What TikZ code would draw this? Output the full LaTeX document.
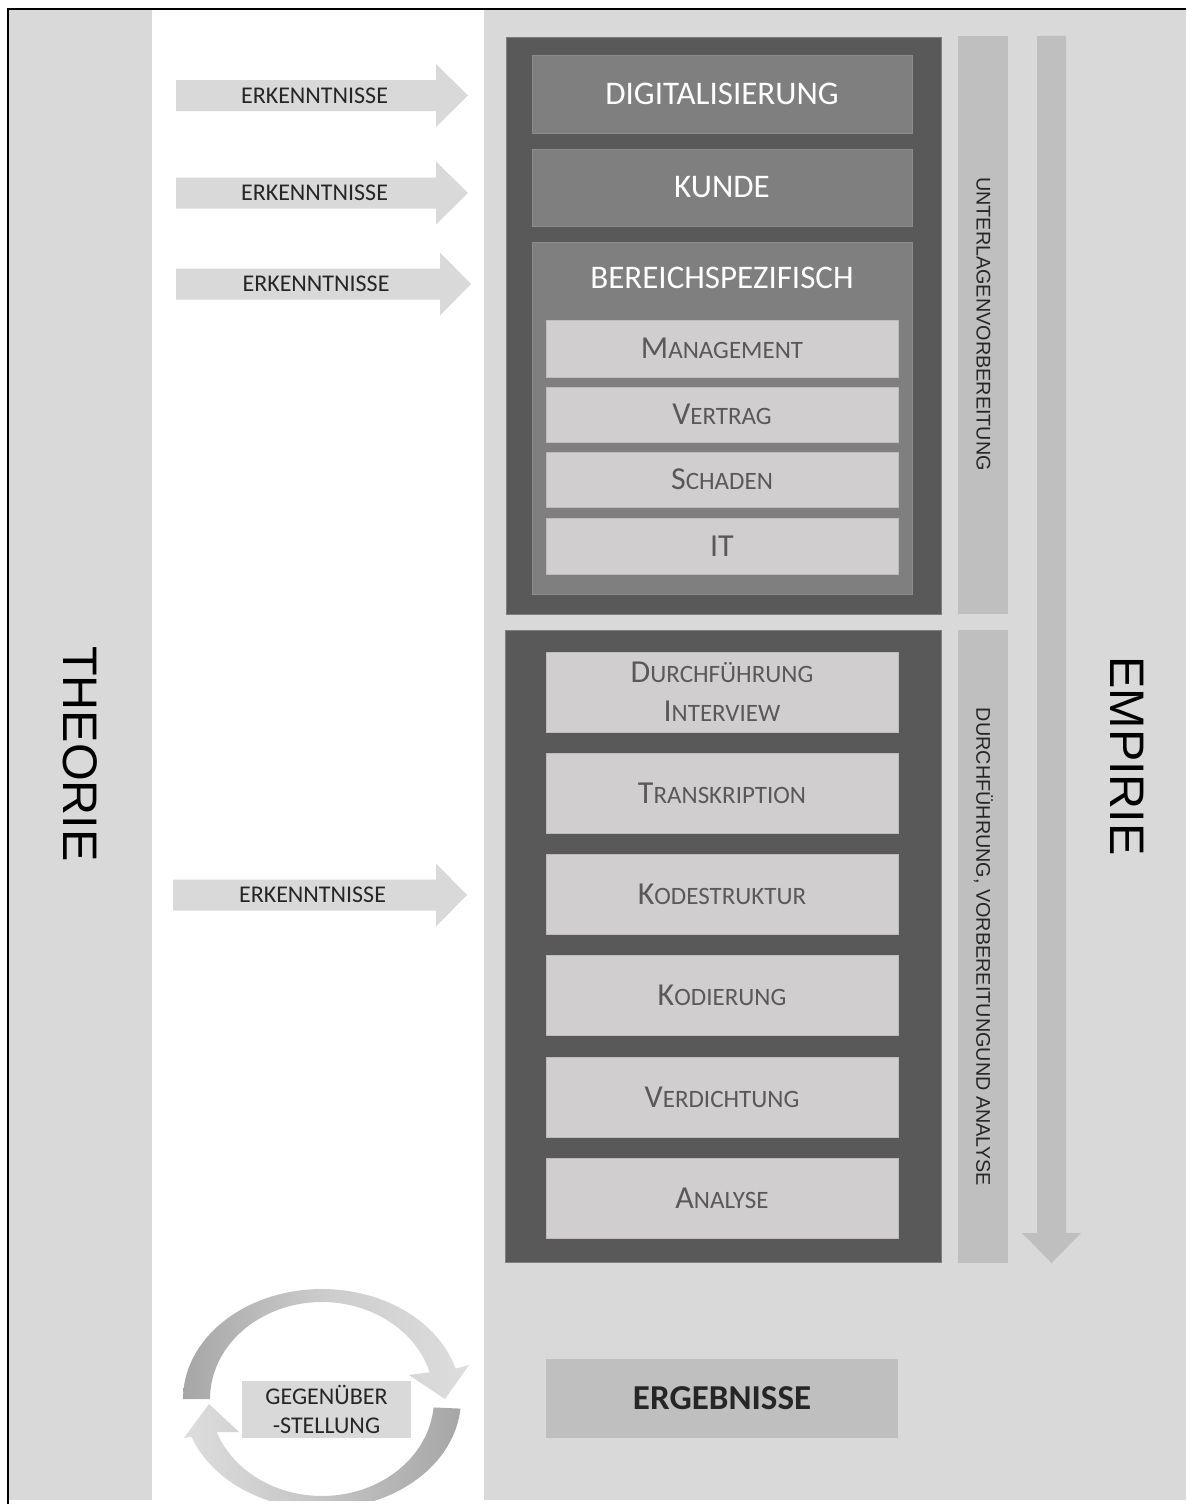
\documentclass[tikz,border=0pt]{standalone}
\usepackage{fontspec}
\setmainfont{Carlito}
\newfontfamily\arialfont{Liberation Sans}
\usetikzlibrary{calc}

\definecolor{pagegray}{HTML}{D9D9D9}
\definecolor{boxdark}{HTML}{595959}
\definecolor{boxmid}{HTML}{7F7F7F}
\definecolor{headedge}{HTML}{8C8C8C}
\definecolor{boxlight}{HTML}{D0CECE}
\definecolor{lightedge}{HTML}{BDBBBB}
\definecolor{barclr}{HTML}{BFBFBF}
\definecolor{txtdark}{HTML}{595959}
\definecolor{txtblack}{HTML}{262626}
\definecolor{arcdark}{HTML}{A6A6A6}
\definecolor{arclight}{HTML}{DDDDDD}

% small-caps look: large initial, smaller capitals after it
\newcommand{\capsc}[2]{{\fontsize{32}{39}\selectfont #1}{\fontsize{25}{39}\selectfont #2}}

\tikzset{
  darkbox/.style={fill=boxdark, draw=boxmid, line width=0.8pt, inner sep=0pt},
  headbox/.style={fill=boxmid, draw=headedge, line width=0.8pt, inner sep=0pt,
    text=white, font=\fontsize{33}{40}\selectfont, minimum width=380pt},
  headlabel/.style={inner sep=0pt, text=white, font=\fontsize{33}{40}\selectfont},
  lightbox/.style={fill=boxlight, draw=lightedge, line width=0.8pt, inner sep=0pt,
    text=txtdark, minimum width=352pt, align=center, font=\fontsize{32}{39}\selectfont},
  phasebar/.style={fill=barclr, inner sep=0pt, minimum width=50pt},
  barlabel/.style={inner sep=0pt, rotate=-90, text=txtblack,
    font=\arialfont\fontsize{19.8}{24}\selectfont},
  sidelabel/.style={inner sep=0pt, rotate=-90, text=black,
    font=\arialfont\fontsize{48.5}{56}\selectfont},
  erkarrow/.style={fill=pagegray},
  erklabel/.style={inner sep=0pt, text=txtblack, font=\fontsize{24}{28}\selectfont},
  resultbox/.style={fill=barclr, inner sep=0pt, minimum width=352pt, minimum height=79pt,
    text=txtblack, font=\bfseries\fontsize{35}{40}\selectfont},
  comparebox/.style={fill=pagegray, inner sep=0pt, minimum width=169pt, minimum height=57pt,
    text=txtblack, align=center, font=\fontsize{24}{28.5}\selectfont},
}

\begin{document}
\begin{tikzpicture}[x=1pt, y=-1pt]
\useasboundingbox (0,0) rectangle (1186,1504);
\fill[white] (0,0) rectangle (1186,1504);

% background columns: theory, white gap, empirical part
\fill[pagegray] (9,9) rectangle (152,1500);
\fill[pagegray] (484,9) rectangle (1186,1500);
\draw[black, line width=1.2pt] (8,1504) -- (8,9) -- (1186,9);

% side titles
\node[sidelabel] (theorie) at (80,754) {THEORIE};
\node[sidelabel] (empirie) at (1127,756) {EMPIRIE};

% preparation block
\node[darkbox, minimum width=435pt, minimum height=577pt] (prep) at (723.5,325.5) {};
\node[headbox, minimum height=78pt] (digital) at (722,94) {DIGITALISIERUNG};
\node[headbox, minimum height=77pt] (kunde) at (722,187.5) {KUNDE};
\node[headbox, minimum height=352pt] (bereich) at (722,418) {};
\node[headlabel] (bereichlabel) at (722,278) {BEREICHSPEZIFISCH};
\node[lightbox, minimum height=57pt] (management) at (722,348.5) {\capsc{M}{ANAGEMENT}};
\node[lightbox, minimum height=55pt] (vertrag) at (722,414.5) {\capsc{V}{ERTRAG}};
\node[lightbox, minimum height=55pt] (schaden) at (722,479.5) {\capsc{S}{CHADEN}};
\node[lightbox, minimum height=56pt] (it) at (722,546) {\capsc{IT}{}};

% execution and analysis block
\node[darkbox, minimum width=436pt, minimum height=632pt] (exec) at (723,946) {};
\node[lightbox, minimum height=80pt] (interview) at (722,692)
  {\capsc{D}{URCHFÜHRUNG}\\\capsc{I}{NTERVIEW}};
\node[lightbox, minimum height=80pt] (transkription) at (722,793) {\capsc{T}{RANSKRIPTION}};
\node[lightbox, minimum height=80pt] (kodestruktur) at (722,894) {\capsc{K}{ODESTRUKTUR}};
\node[lightbox, minimum height=80pt] (kodierung) at (722,995) {\capsc{K}{ODIERUNG}};
\node[lightbox, minimum height=80pt] (verdichtung) at (722,1097) {\capsc{V}{ERDICHTUNG}};
\node[lightbox, minimum height=80pt] (analyse) at (722,1198) {\capsc{A}{NALYSE}};

% phase bars with their labels
\node[phasebar, minimum height=578pt] (bar1) at (983,325) {};
\node[barlabel] (bar1label) at (983.5,324) {UNTERLAGENVORBEREITUNG};
\node[phasebar, minimum height=633pt] (bar2) at (983,946.5) {};
\node[barlabel] (bar2label) at (983.5,947) {DURCHFÜHRUNG, VORBEREITUNGUND ANALYSE};

% process direction
\fill[barclr] (1037,36) -- (1066,36) -- (1066,1233) -- (1081,1233)
  -- (1051.5,1263) -- (1022,1233) -- (1037,1233) -- cycle;

% insight arrows from theory
\fill[erkarrow] (176,80) -- (436,80) -- (436,64) -- (468,95.5) -- (436,127) -- (436,111) -- (176,111) -- cycle;
\node[erklabel] (erk1) at (314.5,95.5) {ERKENNTNISSE};
\fill[erkarrow] (176,177.5) -- (436,177.5) -- (436,161.5) -- (468,193) -- (436,224.5) -- (436,208.5) -- (176,208.5) -- cycle;
\node[erklabel] (erk2) at (314.5,193) {ERKENNTNISSE};
\fill[erkarrow] (176,268.5) -- (440,268.5) -- (440,252.5) -- (471,284) -- (440,315.5) -- (440,299.5) -- (176,299.5) -- cycle;
\node[erklabel] (erk3) at (316,284) {ERKENNTNISSE};
\fill[erkarrow] (173,879.5) -- (436,879.5) -- (436,863.5) -- (467,895) -- (436,926.5) -- (436,910.5) -- (173,910.5) -- cycle;
\node[erklabel] (erk4) at (312.5,895) {ERKENNTNISSE};

% result
\node[resultbox] (ergebnisse) at (722,1398.5) {ERGEBNISSE};

% comparison cycle
\begin{scope}
  \clip (152,9) rectangle (484,1500);
  \shade[left color=arcdark, right color=arclight, middle color=arclight!70!arcdark]
    plot[domain=180:16, samples=60] ({322+139*cos(\x)},{1399-110*sin(\x)})
    -- (469,1365) -- (445,1399) -- (409,1375)
    -- plot[domain=16:180, samples=60] ({322+112*cos(\x)},{1399-97*sin(\x)})
    -- cycle;
  \shade[right color=arcdark, left color=arclight, middle color=arclight!55!arcdark]
    plot[domain=-5:-160, samples=60] ({322+139*cos(\x)},{1399-110*sin(\x)})
    -- (184,1438) -- (209,1404) -- (239,1432)
    -- plot[domain=-160:-5, samples=60] ({322+112*cos(\x)},{1399-97*sin(\x)})
    -- cycle;
\end{scope}
\node[comparebox] (vergleich) at (326.5,1409.5) {GEGENÜBER\\-STELLUNG};
\end{tikzpicture}
\end{document}
